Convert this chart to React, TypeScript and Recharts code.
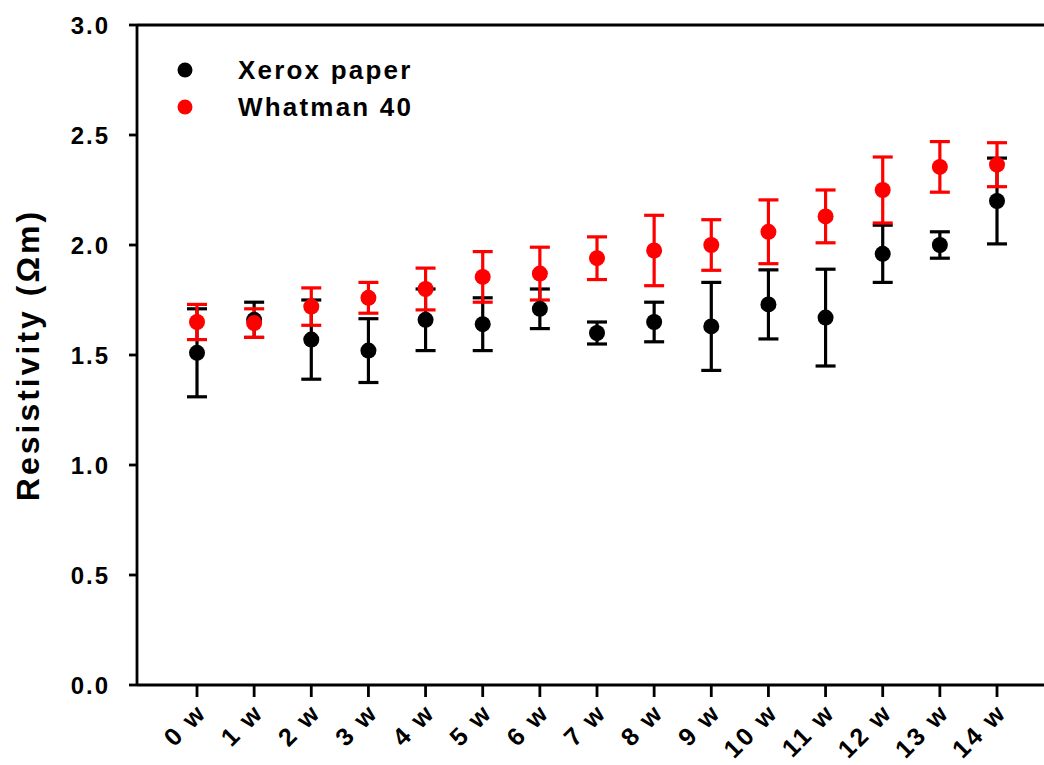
import { ComposedChart, Scatter, ErrorBar, XAxis, YAxis, ReferenceLine } from "recharts"

const weeks = ["0 w", "1 w", "2 w", "3 w", "4 w", "5 w", "6 w", "7 w", "8 w", "9 w", "10 w", "11 w", "12 w", "13 w", "14 w"]
const xerox = [1.51, 1.66, 1.57, 1.52, 1.66, 1.64, 1.71, 1.6, 1.65, 1.63, 1.73, 1.67, 1.96, 2.0, 2.2]
const xeroxErr = [0.2, 0.08, 0.18, 0.145, 0.14, 0.12, 0.09, 0.05, 0.09, 0.2, 0.157, 0.22, 0.13, 0.06, 0.195]
const whatman = [1.65, 1.645, 1.72, 1.76, 1.8, 1.855, 1.87, 1.94, 1.975, 2.0, 2.06, 2.13, 2.25, 2.355, 2.365]
const whatmanErr = [0.08, 0.065, 0.085, 0.07, 0.095, 0.115, 0.12, 0.097, 0.16, 0.115, 0.145, 0.12, 0.15, 0.115, 0.1]
const yTicks = [0, 0.5, 1, 1.5, 2, 2.5, 3]
const legendItems = [
  { label: "Xerox paper", color: "#000" },
  { label: "Whatman 40", color: "#ff0000" },
]

const rows = weeks.map((week, i) => ({
  week,
  xerox: xerox[i],
  xeroxErr: xeroxErr[i],
  whatman: whatman[i],
  whatmanErr: whatmanErr[i],
}))

const font = "'Liberation Sans', Arial, sans-serif"

const dot = (color: string) => (p: any) => <circle cx={p.cx} cy={p.cy} r={8} fill={color} />

function WeekTick({ x, y, payload }: any) {
  return (
    <g transform={`translate(${x + 11},${y + 15})`}>
      <text
        textAnchor="end"
        transform="rotate(-45)"
        fontFamily={font}
        fontWeight="bold"
        fontSize={25}
        letterSpacing={2.5}
        fill="#000"
      >
        {payload.value}
      </text>
    </g>
  )
}

function LegendBox() {
  return (
    <svg width={300} height={90} style={{ position: "absolute", left: 150, top: 40 }}>
      {legendItems.map((it, i) => (
        <g key={it.label}>
          <circle cx={35} cy={30 + i * 37} r={7.5} fill={it.color} />
          <text
            x={88}
            y={30 + i * 37}
            dy="0.36em"
            fontFamily={font}
            fontWeight="bold"
            fontSize={26}
            letterSpacing={2.2}
            fill="#000"
          >
            {it.label}
          </text>
        </g>
      ))}
    </svg>
  )
}

export default function App() {
  return (
    <div style={{ position: "absolute", left: 0, top: 0, width: 1044, height: 765, overflow: "hidden", background: "#fff" }}>
      <ComposedChart width={1070} height={765} data={rows} margin={{ top: 25, right: 13, left: 0, bottom: 0 }}>
        <XAxis
          dataKey="week"
          type="category"
          scale="point"
          padding={{ left: 60, right: 60 }}
          height={80}
          tickSize={12}
          tick={<WeekTick />}
          interval={0}
          axisLine={{ stroke: "#000", strokeWidth: 2.8 }}
          tickLine={{ stroke: "#000", strokeWidth: 2.8 }}
        />
        <YAxis
          width={137}
          domain={[0, 3]}
          ticks={yTicks}
          tickFormatter={(v: number) => v.toFixed(1)}
          tickSize={8}
          tickMargin={19}
          axisLine={{ stroke: "#000", strokeWidth: 2.8 }}
          tickLine={{ stroke: "#000", strokeWidth: 2.8 }}
          tick={{ fill: "#000", fontSize: 24, fontWeight: "bold", fontFamily: font, letterSpacing: 2 }}
          label={{
            value: "Resistivity (Ωm)",
            angle: -90,
            position: "insideLeft",
            offset: 28,
            style: { fill: "#000", fontSize: 32, fontWeight: "bold", fontFamily: font, letterSpacing: 3, textAnchor: "middle" },
          }}
        />
        <ReferenceLine y={3} stroke="#000" strokeWidth={2.8} />
        <Scatter dataKey="xerox" name="Xerox paper" fill="#000" shape={dot("#000")} isAnimationActive={false}>
          <ErrorBar dataKey="xeroxErr" direction="y" width={10} stroke="#000" strokeWidth={3.2} />
        </Scatter>
        <Scatter dataKey="whatman" name="Whatman 40" fill="#ff0000" shape={dot("#ff0000")} isAnimationActive={false}>
          <ErrorBar dataKey="whatmanErr" direction="y" width={10} stroke="#ff0000" strokeWidth={3.2} />
        </Scatter>
      </ComposedChart>
      <LegendBox />
    </div>
  )
}
